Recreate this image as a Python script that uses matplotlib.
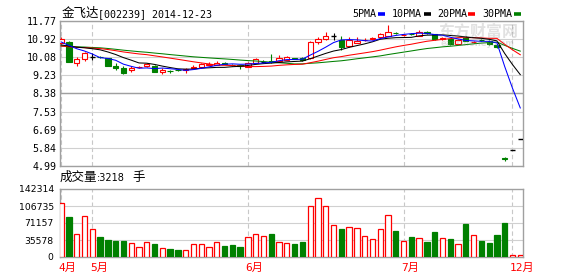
import numpy as np
import matplotlib.pyplot as plt
from matplotlib.lines import Line2D
from matplotlib.patches import Rectangle
import matplotlib.transforms as mtransforms

# 金飞达[002239] 日K, 2014-04 ~ 2014-12-23 (7月之后停牌, 12月复牌)
open_p = [10.73, 10.80, 9.79, 9.98, 10.10, 10.09, 10.03, 9.68, 9.59, 9.48,
          9.61, 9.65, 9.67, 9.37, 9.45, 9.50, 9.50, 9.55, 9.60, 9.72,
          9.71, 9.80, 9.73, 9.69, 9.63, 9.82, 9.87, 9.89, 9.90, 9.95,
          10.04, 10.05, 10.03, 10.80, 10.91, 11.07, 10.88, 10.60, 10.76, 10.86,
          10.93, 11.01, 11.08, 11.22, 11.10, 11.17, 11.08, 11.24, 11.15, 10.95,
          10.91, 10.69, 11.04, 10.78, 10.90, 10.85, 10.65, 5.36, 5.74, 6.26]
close_p = [10.93, 9.87, 9.98, 10.26, 10.10, 10.07, 9.68, 9.56, 9.35, 9.59,
           9.63, 9.75, 9.40, 9.48, 9.43, 9.47, 9.52, 9.60, 9.76, 9.78,
           9.82, 9.77, 9.70, 9.66, 9.82, 9.98, 9.87, 9.86, 10.03, 10.08,
           10.01, 9.95, 10.80, 10.91, 11.07, 11.07, 10.57, 10.88, 10.85, 10.89,
           10.97, 11.15, 11.27, 11.19, 11.13, 11.15, 11.27, 11.21, 10.91, 10.98,
           10.68, 10.88, 10.85, 10.81, 10.87, 10.68, 10.54, 5.30, 5.74, 6.26]
high_p = [11.02, 10.85, 10.07, 10.33, 10.26, 10.12, 10.06, 9.82, 9.65, 9.65,
          9.68, 9.82, 9.70, 9.57, 9.50, 9.53, 9.59, 9.70, 9.80, 9.87,
          9.91, 9.83, 9.76, 9.72, 9.86, 10.02, 9.95, 10.23, 10.18, 10.13,
          10.06, 10.08, 10.82, 11.04, 11.27, 11.22, 11.07, 11.02, 11.00, 10.96,
          11.02, 11.20, 11.56, 11.27, 11.18, 11.20, 11.33, 11.28, 11.17, 11.02,
          10.93, 10.92, 11.06, 10.85, 10.93, 10.87, 10.68, 5.42, 5.74, 6.26]
low_p = [10.68, 9.84, 9.68, 9.90, 9.95, 10.02, 9.66, 9.48, 9.30, 9.40,
         9.57, 9.63, 9.38, 9.30, 9.36, 9.44, 9.33, 9.53, 9.58, 9.70,
         9.69, 9.74, 9.66, 9.51, 9.60, 9.80, 9.80, 9.80, 9.88, 9.93,
         9.98, 9.92, 10.00, 10.69, 10.88, 10.88, 10.41, 10.55, 10.72, 10.82,
         10.90, 10.98, 11.05, 11.14, 11.06, 11.10, 11.05, 11.17, 10.88, 10.88,
         10.65, 10.66, 10.82, 10.74, 10.83, 10.65, 10.50, 5.24, 5.74, 6.26]
volume = [112400, 83700, 47500, 85200, 58000, 41900, 35600, 33500, 33500, 28600,
          20300, 31400, 27200, 18800, 16700, 14700, 14000, 27200, 27200, 20300,
          31400, 23000, 25100, 20900, 41200, 48100, 44000, 48800, 31400, 29300,
          27200, 32000, 106700, 122800, 106700, 67000, 58600, 62800, 60700, 44000,
          37700, 58600, 87900, 54400, 33500, 41900, 39100, 32000, 52300, 39100,
          37700, 27200, 69100, 46000, 34200, 29900, 46000, 71800, 3500, 3218]
# 图左边以前的收盘价, 只用来算均线
pre_close = [10.45, 10.52, 10.60, 10.68, 10.55, 10.62, 10.70, 10.58, 10.64, 10.66,
             10.60, 10.52, 10.48, 10.56, 10.50, 10.58, 10.62, 10.54, 10.55, 10.55,
             10.42, 10.48, 10.52, 10.55, 10.58, 10.68, 10.75, 10.80, 10.79]

month_names = ['4月', '5月', '6月', '7月', '12月']
month_start = [0, 4, 24, 44, 58]
price_ticks = [11.77, 10.92, 10.08, 9.23, 8.38, 7.53, 6.69, 5.84, 4.99]
vol_ticks = [0, 35578, 71157, 106735, 142314]

RED = '#ff0000'
GREEN = '#008000'
GRID = '#d0d0d0'
SPINE = '#a0a0a0'
CJK = 'Noto Sans CJK SC'
MONO = 'DejaVu Sans Mono'

W, H = 578, 276
fig = plt.figure(figsize=(W / 100, H / 100), dpi=100)


def box(left, top, right, bottom):
    return [left / W, 1 - bottom / H, (right - left) / W, (bottom - top) / H]


def ftext(xp, yp, s, **kw):
    fig.text(xp / W, 1 - yp / H, s, va='center', ha='left', **kw)


ax = fig.add_axes(box(60, 21, 523, 166))
axv = fig.add_axes(box(60, 189, 523, 257))

n = len(close_p)
xs = np.arange(n)
o = np.array(open_p)
c = np.array(close_p)
hi = np.array(high_p)
lo = np.array(low_p)
w = 0.68

# K线
for i in range(n):
    if c[i] > o[i]:
        col = RED
    elif c[i] < o[i]:
        col = GREEN
    else:
        col = 'black'
    ax.vlines(i, lo[i], hi[i], color=col, lw=0.8, zorder=2)
    if col == 'black':
        ax.hlines(c[i], i - w / 2, i + w / 2, color='black', lw=1.0, zorder=3)
    else:
        fc = 'white' if col == RED else GREEN
        ax.add_patch(Rectangle((i - w / 2, min(o[i], c[i])), w, abs(c[i] - o[i]),
                               facecolor=fc, edgecolor=col, lw=0.8, zorder=3))

# 均线
allc = np.array(pre_close + close_p)
for k, col in [(30, GREEN), (20, RED), (10, 'black'), (5, '#0000ff')]:
    m = np.convolve(allc, np.ones(k) / k, mode='valid')
    ax.plot(xs, m[-n:], color=col, lw=0.75, zorder=4)

# 成交量
up = c >= o
axv.bar(xs, volume, width=w, color=np.where(up, 'white', GREEN),
        edgecolor=np.where(up, RED, GREEN), linewidth=0.9, zorder=3)

# 网格, 坐标轴
for a in (ax, axv):
    for s in a.spines.values():
        s.set_color(SPINE)
        s.set_linewidth(1.0)
    for m in month_start:
        a.axvline(m, color='#c8c8c8', ls=(0, (4, 2.5)), lw=0.8, zorder=0)
    a.set_xlim(-0.15, n - 1 + 0.35)
    a.set_xticks([])
    a.tick_params(axis='y', length=0, labelsize=7.2)

ax.set_ylim(min(price_ticks), max(price_ticks))
ax.set_yticks(price_ticks)
ax.set_yticklabels([f'{t:.2f}' for t in price_ticks], family=MONO)
ax.tick_params(axis='y', pad=2.5)
for t in price_ticks:
    ax.axhline(t, color=GRID, lw=0.8, zorder=0)
ax.axhline(price_ticks[4], color=SPINE, lw=1.0, zorder=0)

axv.set_ylim(0, max(vol_ticks))
axv.set_yticks(vol_ticks)
axv.set_yticklabels([str(v) for v in vol_ticks], family='DejaVu Sans', fontsize=6.7)
axv.tick_params(axis='y', pad=4.5)
for v in vol_ticks[1:-1]:
    axv.axhline(v, color=GRID, lw=0.8, zorder=0)

trans = mtransforms.blended_transform_factory(axv.transData, axv.transAxes)
for name, m in zip(month_names, month_start):
    axv.text(m - 0.3, -0.165, name, transform=trans, color=RED, fontsize=8,
             family=[MONO, CJK], ha='left', va='center')

# 标题, 图例
ftext(61.5, 13.5, '金飞达', family=CJK, fontsize=9)
ftext(98, 14, '[002239] 2014-12-23', family=MONO, fontsize=7.2)
legend = [('5PMA', 352, 378, '#0000ff'), ('10PMA', 392, 424, 'black'),
          ('20PMA', 437, 468, RED), ('30PMA', 482, 514, GREEN)]
for lab, xt, xd, col in legend:
    ftext(xt, 14, lab, family=MONO, fontsize=7.2)
    fig.add_artist(Line2D([xd / W, (xd + 6.5) / W], [1 - 14 / H, 1 - 14 / H],
                          color=col, lw=2.6, solid_capstyle='butt'))

ftext(60, 177.5, '成交量', family=CJK, fontsize=9)
ftext(97, 178, ':3218', family='DejaVu Sans', fontsize=7)
ftext(132.5, 177.5, '手', family=CJK, fontsize=9)

# 水印
fig.text(478 / W, 1 - 31.5 / H, '东方财富网', family=CJK, fontsize=11.5,
         fontweight='bold', color='#888888', alpha=0.25, ha='center', va='center')
fig.text(478 / W, 1 - 43.5 / H, 'eastmoney.com', family='DejaVu Sans', fontsize=6,
         fontweight='bold', color='#888888', alpha=0.25, ha='center', va='center')

fig.savefig('out.png', dpi=100, facecolor='white')
